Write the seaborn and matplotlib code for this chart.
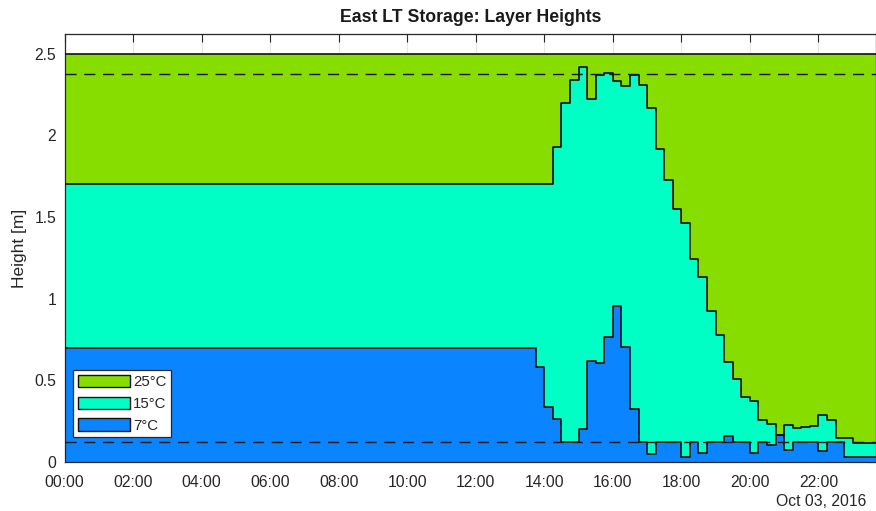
import numpy as np
import pandas as pd
import matplotlib
matplotlib.use("Agg")
import matplotlib.pyplot as plt
import matplotlib.dates as mdates
from matplotlib.patches import Patch
import seaborn as sns

# ---------------- data (15-minute intervals, 00:00 .. 23:45) ----------------
day = "2016-10-03"
layer_labels = ["25°C", "15°C", "7°C"]
tank_height = 2.5
upper_limit = 2.375
lower_limit = 0.125

# top of the 15°C layer (boundary 15°C / 25°C)
top_15 = [1.70] * 57 + [
    1.93, 2.20, 2.34, 2.415, 2.22, 2.37, 2.38, 2.335, 2.30, 2.37, 2.31,
    2.165, 1.915, 1.725, 1.55, 1.46, 1.245, 1.13, 0.927, 0.777, 0.613,
    0.507, 0.40, 0.374, 0.255, 0.232, 0.165, 0.228, 0.206, 0.217, 0.222,
    0.288, 0.256, 0.149, 0.149, 0.114, 0.114, 0.114, 0.114,
]
# top of the 7°C layer (boundary 7°C / 15°C)
top_7 = [0.70] * 55 + [
    0.583, 0.338, 0.266, 0.125, 0.125, 0.204, 0.616, 0.606, 0.763, 0.958,
    0.702, 0.327, 0.125, 0.049, 0.125, 0.125, 0.125, 0.03, 0.125, 0.057,
    0.125, 0.125, 0.16, 0.125, 0.125, 0.057, 0.125, 0.105, 0.165, 0.074,
    0.125, 0.125, 0.125, 0.065, 0.125, 0.125, 0.03, 0.03, 0.03, 0.03, 0.03,
]

# step end point (value held to 24:00)
times = pd.date_range(day + " 00:00", periods=len(top_15) + 1, freq="15min")
df = pd.DataFrame({
    "time": times,
    "top15": top_15 + [top_15[-1]],
    "top7": top_7 + [top_7[-1]],
})

# ---------------- style ----------------
sns.set_style("white")
plt.rcParams["font.family"] = ["Liberation Sans", "DejaVu Sans"]
c_25 = "#88dd00"
c_15 = "#00ffc4"
c_7 = "#0a84ff"
dark = "#262626"

W, H = 876, 511
fig = plt.figure(figsize=(W / 100, H / 100), dpi=100)
x0, x1, y0, y1 = 64.5, 876, 462, 34
pos = [x0 / W, (H - y0) / H, (x1 - x0) / W, (y0 - y1) / H]

t_start = pd.Timestamp(day + " 00:00")
t_end = t_start + pd.Timedelta(hours=23.68)

# background axes carrying the grid only
axg = fig.add_axes(pos, zorder=0)
ax = fig.add_axes(pos, zorder=1, sharex=axg, sharey=axg)
ax.patch.set_alpha(0)

# fills
ax.fill_between(df["time"], 0, df["top7"], step="post", color=c_7, lw=0, zorder=1)
ax.fill_between(df["time"], df["top7"], df["top15"], step="post", color=c_15, lw=0, zorder=1)
ax.fill_between(df["time"], df["top15"], tank_height, step="post", color=c_25, lw=0, zorder=1)

# boundaries
sns.lineplot(data=df, x="time", y="top15", drawstyle="steps-post", color="#111111",
             lw=1.2, ax=ax, zorder=3)
sns.lineplot(data=df, x="time", y="top7", drawstyle="steps-post", color="#111111",
             lw=1.2, ax=ax, zorder=3)
ax.axhline(tank_height, color="#111111", lw=1.2, zorder=3)

# limits (dashed)
for lvl in (upper_limit, lower_limit):
    ax.axhline(lvl, color="#1a1a1a", lw=1.0, ls=(0, (8, 5.5)), zorder=4)

ax.set_xlim(t_start, t_end)
ax.set_ylim(0, 2.62)
ax.set_yticks([0, 0.5, 1, 1.5, 2, 2.5])
ax.set_yticklabels(["0", "0.5", "1", "1.5", "2", "2.5"])
ax.xaxis.set_major_locator(mdates.HourLocator(interval=2))
ax.xaxis.set_major_formatter(mdates.DateFormatter("%H:%M"))

# grid on background axes
axg.grid(True, color="#e6e6e6", lw=0.8)
axg.tick_params(left=False, bottom=False, labelleft=False, labelbottom=False)
for s in axg.spines.values():
    s.set_visible(False)

ax.tick_params(direction="in", length=5.5, width=0.8, colors=dark, labelsize=11.3,
               top=True, right=True, labelcolor=dark)
ax.tick_params(axis="x", pad=9)
ax.tick_params(axis="y", pad=6)
for s in ax.spines.values():
    s.set_color(dark)
    s.set_linewidth(0.9)
ax.grid(False)

ax.set_xlabel("")
ax.set_ylabel("Height [m]", fontsize=12.5, color=dark, labelpad=5)
ax.set_title("East LT Storage: Layer Heights", fontsize=12.7, fontweight="bold",
             color="#1a1a1a", pad=9)

fig.text(866 / W, 1 - 502 / H, "Oct 03, 2016", ha="right", va="center",
         fontsize=11.3, color=dark)

handles = [Patch(facecolor=c, edgecolor="#111111", lw=1.0) for c in (c_25, c_15, c_7)]
leg = ax.legend(handles, layer_labels, loc="lower left",
                bbox_to_anchor=((73.3 - x0) / (x1 - x0), (y0 - 437.3) / (y0 - y1)),
                fontsize=10.8, frameon=True, fancybox=False, framealpha=1,
                edgecolor=dark, handlelength=3.5, handleheight=0.9,
                handletextpad=0.2, labelspacing=0.5, borderpad=0.3,
                borderaxespad=0)
leg.get_frame().set_linewidth(0.9)
leg.set_zorder(5)

fig.savefig("out.png", dpi=100)
